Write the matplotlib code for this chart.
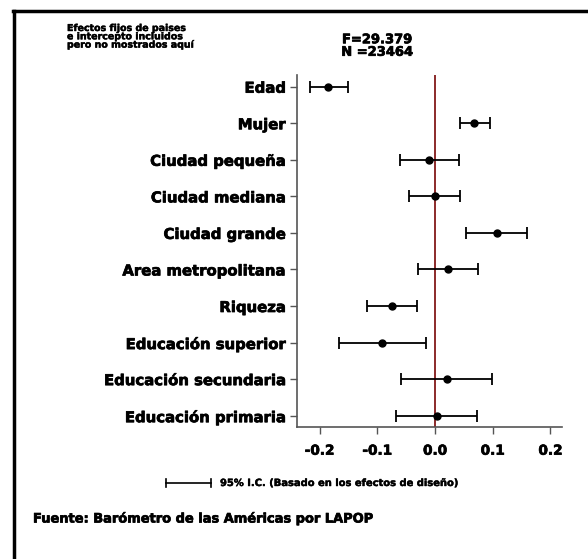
import numpy as np
import matplotlib.pyplot as plt
import matplotlib.patheffects as pe
from matplotlib.lines import Line2D

variables = [
    "Edad", "Mujer", "Ciudad pequeña", "Ciudad mediana", "Ciudad grande",
    "Area metropolitana", "Riqueza", "Educación superior",
    "Educación secundaria", "Educación primaria",
]
coeficientes = [-0.185, 0.068, -0.010, 0.000, 0.107, 0.022, -0.075, -0.092, 0.020, 0.003]
ic_bajo = [-0.217, 0.043, -0.061, -0.045, 0.054, -0.029, -0.117, -0.167, -0.058, -0.068]
ic_alto = [-0.151, 0.095, 0.042, 0.043, 0.160, 0.074, -0.031, -0.016, 0.099, 0.072]
xticks = [-0.2, -0.1, 0.0, 0.1, 0.2]

plt.rcParams["font.family"] = ["DejaVu Sans"]
plt.rcParams["font.weight"] = "bold"

# trazo fino para engrosar el texto (parecido a Arial Black)
grueso = [pe.withStroke(linewidth=0.5, foreground="black")]
fino = [pe.withStroke(linewidth=0.3, foreground="black")]

fig = plt.figure(figsize=(5.88, 5.59), dpi=100)
ax = fig.add_axes([297 / 588, 1 - 427 / 559, 265 / 588, 352 / 559])

coef = np.array(coeficientes)
pos = np.arange(len(variables))[::-1]
err = [coef - np.array(ic_bajo), np.array(ic_alto) - coef]

ax.axvline(0, color="#8b2a2a", lw=1.4, zorder=1)
ax.errorbar(coef, pos, xerr=err, fmt="o", color="black", ms=5,
            elinewidth=1.3, capsize=4, capthick=1.3, zorder=3)

ax.set_yticks(pos)
ax.set_yticklabels(variables, fontsize=10.7, fontweight="bold")
ax.set_xticks(xticks)
ax.set_xticklabels([f"{t:.1f}" for t in xticks], fontsize=9.8, fontweight="bold")
for lab in ax.get_xticklabels() + ax.get_yticklabels():
    lab.set_path_effects(grueso)
ax.set_xlim(-0.239, 0.220)
ax.set_ylim(-0.31, 9.32)

for s in ["top", "right"]:
    ax.spines[s].set_visible(False)
for s in ["left", "bottom"]:
    ax.spines[s].set_color("#555555")
    ax.spines[s].set_linewidth(1.2)
ax.tick_params(axis="both", colors="#555555", labelcolor="black", length=5, width=1)
ax.tick_params(axis="x", pad=7)
ax.tick_params(axis="y", pad=3)

# Marco de la figura (solo arriba e izquierda)
fig.add_artist(Line2D([13 / 588, 1.0], [1 - 11 / 559] * 2, color="black", lw=2.5))
fig.add_artist(Line2D([13.5 / 588] * 2, [1 - 11 / 559, 0.0], color="black", lw=2.5))

fig.text(67 / 588, 1 - 24 / 559, "Efectos fijos de paises\ne intercepto incluidos\npero no mostrados aquí",
         fontsize=6.8, fontweight="bold", va="top", ha="left", linespacing=0.9,
         path_effects=fino)
fig.text(377 / 588, 1 - 46 / 559, "F=29.379\nN =23464", fontsize=9.4,
         fontweight="bold", ha="center", va="center", linespacing=0.95,
         path_effects=grueso)

# Leyenda del intervalo de confianza
y_leg = 1 - 483 / 559
fig.add_artist(Line2D([166 / 588, 211 / 588], [y_leg, y_leg], color="black", lw=1.2))
fig.add_artist(Line2D([166 / 588] * 2, [y_leg - 0.008, y_leg + 0.008], color="black", lw=1.2))
fig.add_artist(Line2D([211 / 588] * 2, [y_leg - 0.008, y_leg + 0.008], color="black", lw=1.2))
fig.text(220 / 588, y_leg, "95% I.C. (Basado en los efectos de diseño)",
         fontsize=7.15, fontweight="bold", va="center", ha="left", path_effects=fino)

fig.text(33 / 588, 1 - 519 / 559, "Fuente: Barómetro de las Américas por LAPOP",
         fontsize=9.35, fontweight="bold", va="center", ha="left", path_effects=grueso)

fig.savefig("out.png", dpi=100)
